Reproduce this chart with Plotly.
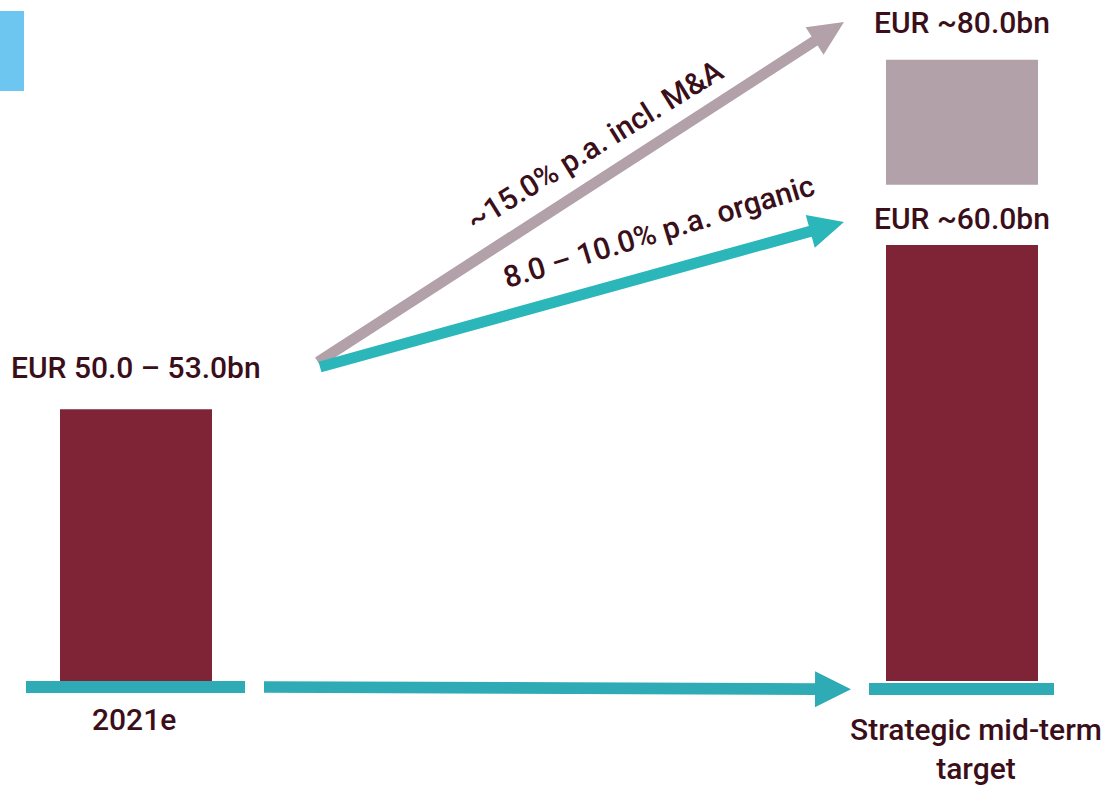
import plotly.graph_objects as go

# ---------------- data ----------------
categories = ["2021e", "Strategic mid-term<br>target"]
organic_heights = [37.4, 60.0]          # drawn bar heights (illustrative units)
ma_base = [68.3]                        # M&A uplift block (right bar only)
ma_height = [17.2]
value_labels = ["EUR 50.0 – 53.0bn", "EUR ~60.0bn"]
ma_label = "EUR ~80.0bn"
growth_ma = "~15.0% p.a. incl. M&A"
growth_organic = "8.0 – 10.0% p.a. organic"

# ---------------- style ----------------
W, H = 1107, 785
MAROON = "#7E2436"
GREY = "#B2A1A8"
TEAL = "#2EABB5"
TEAL2 = "#2BB7BA"
BLUE = "#6CC6F0"
TXT = "#3A0F1A"
FONT = "Roboto"
FS = 30

X0_PX, DX_PX = 136, 826       # pixel centre of first bar, spacing between bars
BASE_PX = 681                 # pixel of value 0
PPU = 436 / 60                # pixels per unit
BAR_W = 152 / DX_PX

def to_x(px):
    return (px - X0_PX) / DX_PX

def to_y(py):
    return (BASE_PX - py) / PPU

xpos = list(range(len(categories)))

fig = go.Figure()
fig.add_bar(x=xpos, y=organic_heights, width=BAR_W, marker_color=MAROON,
            marker_line_width=0, hoverinfo="skip")
fig.add_bar(x=[xpos[-1]], y=ma_height, base=ma_base, width=BAR_W,
            marker_color=GREY, marker_line_width=0, hoverinfo="skip")

shapes = []

def rect_px(x0, y0, x1, y1, color):
    shapes.append(dict(type="rect", xref="x", yref="y",
                       x0=to_x(x0), x1=to_x(x1), y0=to_y(y0), y1=to_y(y1),
                       fillcolor=color, line_width=0, layer="above"))

def arrow_px(x0, y0, x1, y1, w, hl, hw, color):
    import math
    dx, dy = x1 - x0, y1 - y0
    L = math.hypot(dx, dy)
    ux, uy = dx / L, dy / L
    nx, ny = -uy, ux
    bx, by = x1 - ux * hl, y1 - uy * hl
    pts = [
        (x0 + nx * w / 2, y0 + ny * w / 2),
        (bx + nx * w / 2, by + ny * w / 2),
        (bx + nx * hw, by + ny * hw),
        (x1, y1),
        (bx - nx * hw, by - ny * hw),
        (bx - nx * w / 2, by - ny * w / 2),
        (x0 - nx * w / 2, y0 - ny * w / 2),
    ]
    path = "M " + " L ".join(f"{to_x(px):.5f},{to_y(py):.5f}" for px, py in pts) + " Z"
    shapes.append(dict(type="path", xref="x", yref="y", path=path,
                       fillcolor=color, line_width=0, layer="above"))

# baseline strips under bars and decorative blue tab
rect_px(26, 681, 245, 693, TEAL)
rect_px(869, 683, 1054, 695, TEAL)
rect_px(0, 11, 24, 91, BLUE)

# arrows
arrow_px(264, 687, 851, 689.3, 11.7, 36, 18, TEAL)
arrow_px(318, 362, 844, 22, 11, 35, 16.5, GREY)
arrow_px(320, 367, 844, 222, 11, 35, 17, TEAL2)

fig.update_layout(shapes=shapes)

ann = []
font = dict(family=FONT, size=FS, color=TXT, weight=500)
# value labels above bars
ann.append(dict(x=xpos[0], y=organic_heights[0], text=value_labels[0], yshift=42,
                showarrow=False, font=font, xanchor="center", yanchor="middle"))
ann.append(dict(x=xpos[1], y=organic_heights[1], text=value_labels[1], yshift=27,
                showarrow=False, font=font, xanchor="center", yanchor="middle"))
ann.append(dict(x=xpos[1], y=ma_base[0] + ma_height[0], text=ma_label, yshift=37,
                showarrow=False, font=font, xanchor="center", yanchor="middle"))
# category labels
ann.append(dict(x=xpos[0], y=0, text=categories[0], yshift=-38, xshift=-2,
                showarrow=False, font=font, xanchor="center", yanchor="middle"))
ann.append(dict(x=xpos[1], y=0, text=categories[1], yshift=-68, xshift=14,
                showarrow=False, font=font, xanchor="center", yanchor="middle"))
# growth labels
ann.append(dict(x=to_x(594), y=to_y(145), text=growth_ma, textangle=-31.8,
                showarrow=False, font=font, xanchor="center", yanchor="middle"))
ann.append(dict(x=to_x(658), y=to_y(231), text=growth_organic, textangle=-16.9,
                showarrow=False, font=font, xanchor="center", yanchor="middle"))

fig.update_layout(
    annotations=ann,
    width=W, height=H,
    margin=dict(l=0, r=0, t=0, b=0),
    paper_bgcolor="white", plot_bgcolor="white",
    showlegend=False, barmode="overlay",
    xaxis=dict(range=[to_x(0), to_x(W)], visible=False, fixedrange=True),
    yaxis=dict(range=[to_y(H), to_y(0)], visible=False, fixedrange=True),
)

fig.write_html("out.html")
